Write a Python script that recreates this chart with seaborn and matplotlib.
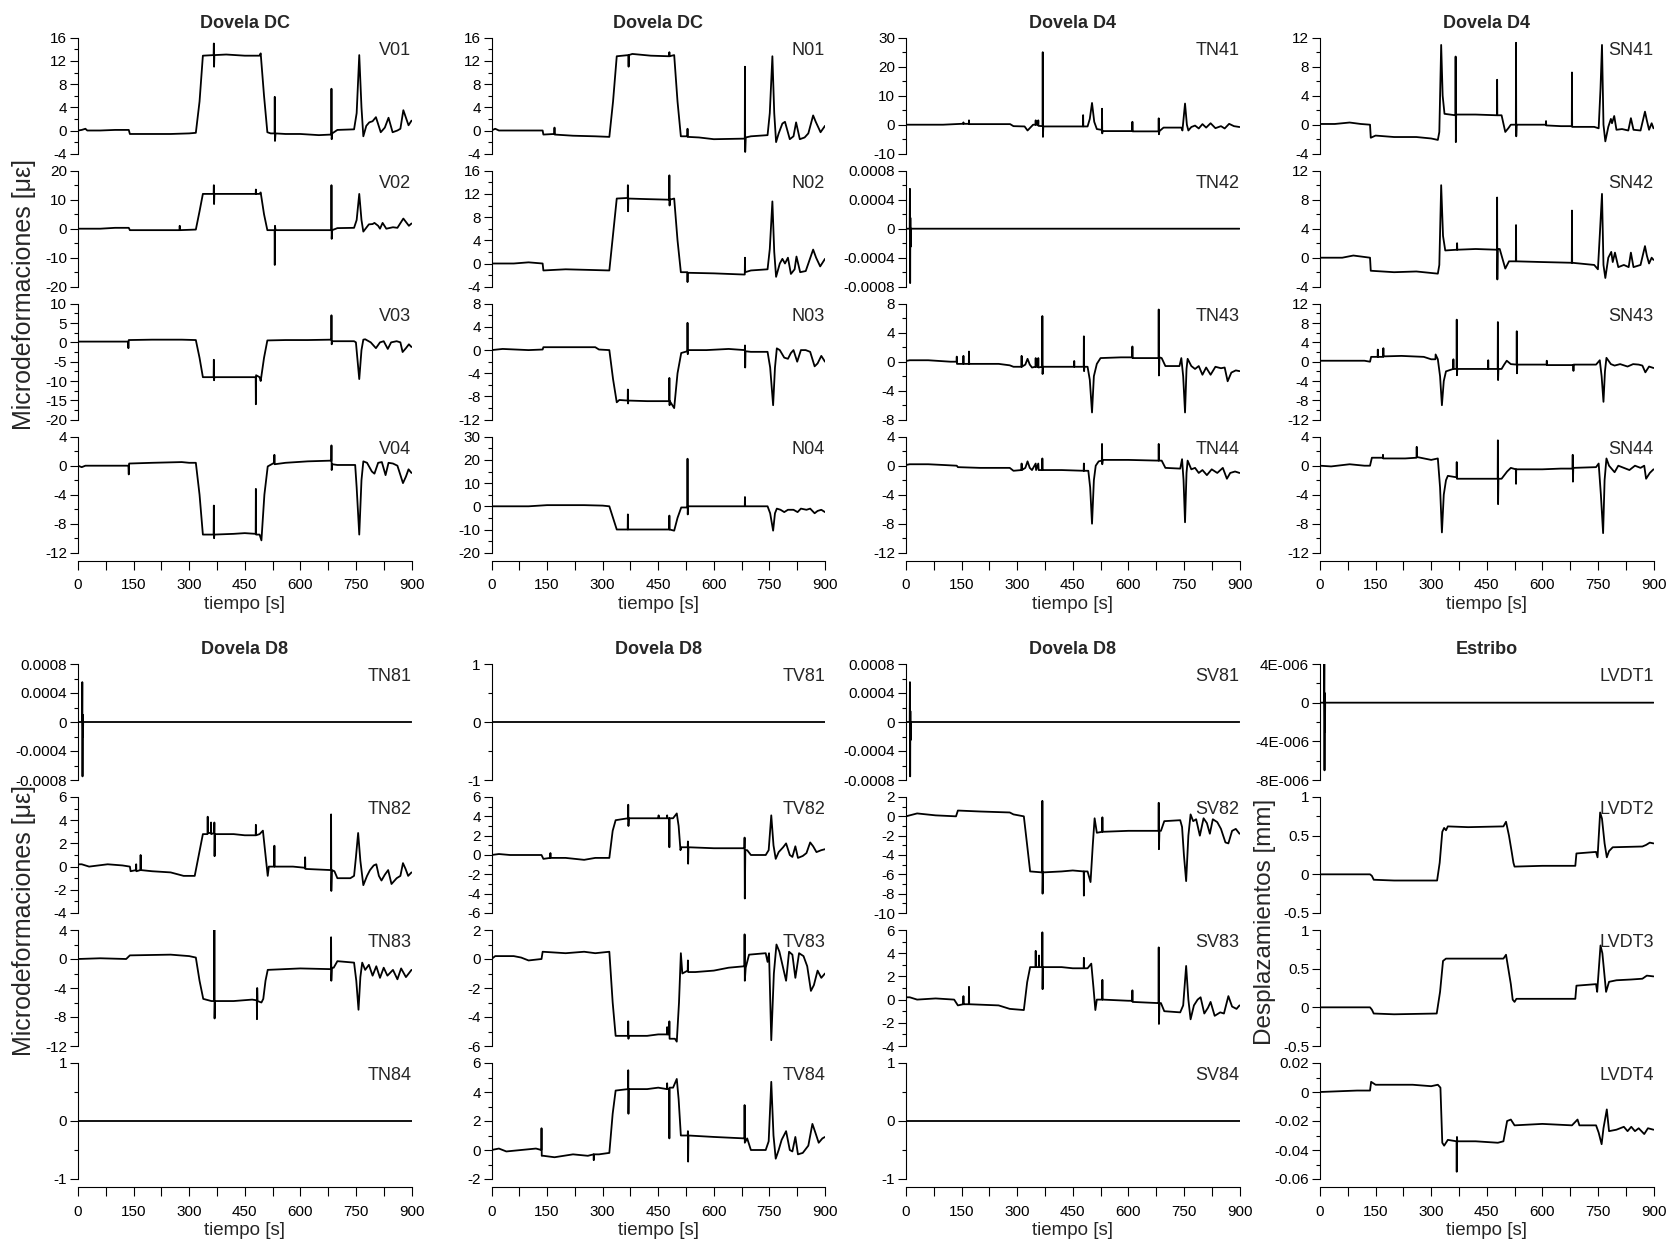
import numpy as np
import pandas as pd
import matplotlib
matplotlib.use("Agg")
import matplotlib.pyplot as plt
import seaborn as sns
from matplotlib.ticker import FixedLocator, MultipleLocator

sns.set_theme(style="ticks")
plt.rcParams['font.family'] = ['Liberation Sans', 'DejaVu Sans']

# ---------------- data (time [s], value) ----------------
V01 = [(0,0),(10,0.1),(20,0.3),(25,0),(60,0),(100,0.1),(137,0.1),(140,-0.6),(180,-0.6),(250,-0.6),(300,-0.5),(318,-0.4),(328,5),(337,12.9),(366,13),(366.6,15),(367.2,11),(368,13),(400,13.1),(450,12.9),(490,12.9),(493,13.3),(502,6),(511,-0.3),(520,-0.5),(530.5,-0.5),(531,5.8),(531.6,-1.8),(533,-0.5),(560,-0.6),(600,-0.6),(650,-0.8),(683.5,-0.7),(684,7.2),(684.6,-1.5),(686,-0.5),(700,0.1),(745,0.2),(752,3),(759,13),(765,4),(770,-1),(778,0.8),(786,1.4),(795,1.6),(804,2.3),(817,-0.3),(828,0.5),(838,2.2),(849,-0.3),(862,0),(870,0.3),(878,3.5),(885,2.2),(892,0.9),(900,1.7)]
V02 = [(0,0),(60,0),(100,0.3),(137,0.3),(140,-0.5),(200,-0.5),(274,-0.5),(274.5,1),(275,-0.5),(318,-0.3),(328,6),(337,12),(366,12),(366.6,15),(367.2,8.5),(368,12),(420,12),(479.5,12),(480,13.5),(480.6,12),(490,12),(493,12.5),(502,5),(511,-0.5),(530.5,-0.5),(531,-12.5),(531.6,1),(533,-0.5),(600,-0.5),(683.5,-0.5),(684,15),(684.6,-3.5),(686,-0.5),(700,0.2),(745,0.3),(752,3),(759,12),(765,3),(770,-1),(785,1.5),(795,1.6),(800,2),(810,1),(815,0),(822,2),(832,0),(850,0.5),(862,0.3),(878,3.5),(887,2),(893,1),(900,1.8)]
V03 = [(0,0.2),(60,0.2),(135,0.2),(136,-1.5),(137,0.6),(200,0.7),(280,0.7),(318,0.6),(328,-4),(337,-9),(366,-9),(366.6,-4.5),(367.2,-9.8),(368,-9),(420,-9),(479.5,-9),(480,-16),(480.6,-8.5),(490,-9),(493,-10),(502,-4),(511,0.5),(560,0.6),(620,0.6),(683.5,0.7),(684,7),(684.6,-0.5),(686,0.3),(700,0.3),(745,0.3),(750,0),(759,-9.5),(765,-2),(770,0.7),(775,0.8),(790,0),(804,-1.5),(815,0),(825,0.3),(836,-1.7),(845,0),(860,0.3),(870,0),(876,-2.5),(885,-1.5),(893,-0.5),(900,-1.2)]
V04 = [(0,0),(10,-0.2),(20,0),(100,0),(136,0),(137,-1.2),(138,0.3),(200,0.4),(280,0.5),(300,0.4),(318,0.4),(328,-4),(337,-9.5),(366,-9.5),(366.6,-5.5),(367.2,-10),(368,-9.5),(420,-9.4),(450,-9.3),(479.5,-9.4),(480,-3.2),(480.6,-9.5),(490,-9.5),(495,-10.3),(503,-4),(512,-0.1),(529.5,0.4),(530,1.5),(530.6,0.2),(560,0.4),(620,0.6),(683.5,0.7),(684,2.8),(684.6,-0.6),(686,0.2),(700,0.1),(748,0.1),(752,-3),(759,-9.5),(765,-2),(770,0.6),(780,0.4),(793,-0.8),(800,-1.1),(810,0.4),(820,0.5),(830,-1.3),(838,0.4),(850,0.3),(862,0),(877,-2.4),(885,-1.5),(892,-0.5),(900,-1)]

N01 = [(0,0),(10,0.3),(20,0),(80,0),(138,0),(140,-0.7),(169.5,-0.6),(170,0.5),(170.5,-0.7),(220,-0.9),(280,-1),(318,-1.1),(328,5),(338,12.8),(369.5,13),(370,11),(370.5,13),(380,13.2),(430,12.9),(479.5,12.8),(480,13.5),(480.5,12.8),(493,13),(502,5),(511,-1),(528.5,-1),(529,0.3),(529.5,-1.1),(560,-1.2),(600,-1.5),(683.5,-1.4),(684,11),(684.6,-3.7),(686,-1.2),(700,-1),(745,-0.8),(751,3),(758,12.8),(763,3),(768,-2),(775,-0.5),(785,1.2),(792,1.5),(805,-1.5),(815,-1),(822,1.4),(832,-1.5),(845,-1.2),(855,-0.5),(868,2.6),(875,1.5),(888,-0.3),(900,0.8)]
N02 = [(0,0),(60,0),(100,0.2),(138,0),(140,-1.2),(200,-1),(260,-1.1),(318,-1.2),(328,5),(338,11.2),(367.5,11.3),(368,13.5),(368.6,9),(369.2,11.2),(420,11.1),(479.5,11),(480,15.2),(480.6,10),(481.2,11),(493,11.2),(502,4),(511,-1.5),(528.5,-1.5),(529,-3.2),(529.6,-1.6),(600,-1.7),(680,-1.9),(683.5,-1.9),(684,1),(684.6,-1.5),(700,-1.2),(745,-1),(751,2.5),(758,10.7),(763,2),(768,-2.3),(778,0),(785,0.8),(792,0),(800,1),(808,-1.8),(818,-1),(823,1.2),(833,-1.5),(848,-1.3),(868,2.4),(876,1),(887,-0.5),(900,0.8)]
N03 = [(0,0),(30,0.2),(100,0),(138,0.1),(140,0.5),(200,0.5),(280,0.5),(290,0.1),(318,0),(328,-5),(338,-9),(345,-8.6),(367.5,-8.7),(368,-6.8),(368.6,-9.2),(369.2,-8.7),(420,-8.8),(479.5,-8.8),(480,-4.8),(480.6,-9.5),(481.2,-8.8),(493,-10),(502,-4),(512,-0.5),(528.5,-0.2),(529,4.7),(529.6,-0.7),(530.5,0),(580,0),(640,0.2),(683.5,0),(684,0.8),(684.6,-3),(685.5,-0.2),(700,-0.3),(745,-0.3),(752,-3),(760,-9.5),(765,-3),(770,0.3),(778,0),(790,-1.3),(800,-1.5),(808,-0.5),(815,0),(825,-2),(835,0),(848,0),(860,-0.3),(872,-2.8),(880,-2.3),(890,-1),(900,-2)]
N04 = [(0,0),(100,0),(150,0.5),(250,0.5),(300,0.3),(318,0),(328,-5),(338,-10),(367.5,-10),(368,-3.5),(368.6,-10),(420,-10),(479.5,-10),(480,-4),(480.6,-10),(493,-10.5),(502,-5),(512,-0.5),(528.5,-0.5),(529,20.5),(529.6,-3.5),(530.5,0),(600,0),(683.5,0),(684,4),(684.6,0),(745,0),(752,-3),(760,-10.5),(765,-3),(770,-1),(780,-1.5),(790,-2.5),(800,-1.5),(815,-1.5),(826,-2.5),(835,-1),(850,-1.5),(860,-1),(872,-3),(880,-2),(890,-1.5),(900,-2.5)]

TN41 = [(0,0),(100,0),(150,0.3),(154.5,0.3),(155,0.8),(155.5,0.3),(169.5,0.3),(170,1.5),(170.5,0.2),(250,0.2),(281,0.2),(290,-0.5),(320,-0.6),(328,-2),(343,0),(349.5,0),(350,1.5),(350.5,0),(356.5,0),(357,1.5),(357.5,-0.4),(368.5,-0.5),(369,25),(369.6,-4.2),(370.5,-0.6),(420,-0.6),(477.5,-0.6),(478,3.3),(478.5,-0.6),(490,-0.6),(496,2),(502,7.5),(508,1),(515,-1.5),(528.5,-1.8),(529,5.5),(529.6,-3),(530.5,-2.2),(580,-2.2),(610.5,-2.2),(611,1),(611.5,-2.3),(650,-2.3),(681.5,-2.3),(682,2.2),(682.6,-3.3),(684,-2.2),(695,-1),(743,-1),(746,-2),(753,7.3),(758,0),(762,-2),(770,-0.8),(780,-0.3),(790,-1.3),(800,0.2),(810,-1),(822,0.5),(835,-1.2),(850,-0.5),(860,-1.3),(872,0.3),(885,-0.5),(900,-0.8)]
TN42 = [(0,0),(10,0),(10.6,0.00055),(11.2,-0.00075),(11.8,0.00015),(12.4,-0.00025),(13,0),(900,0)]
TN43 = [(0,0.1),(10,0.2),(60,0.2),(120,0),(136.5,0),(137,0.7),(137.5,-0.3),(154.5,-0.3),(155,0.8),(155.5,-0.3),(169.5,-0.3),(170,1.4),(170.5,-0.3),(250,-0.3),(280,-0.5),(290,-0.7),(311.5,-0.7),(312,0.8),(312.5,-0.7),(322,-0.4),(328,0.4),(334,-0.4),(340,-0.8),(349.5,-0.7),(350,0.5),(350.5,-0.7),(356.5,-0.7),(357,0.5),(357.5,-0.8),(367.5,-0.7),(368,6.3),(368.6,-1.7),(369.5,-0.7),(420,-0.7),(453.5,-0.7),(454,0.1),(454.5,-0.7),(479.5,-0.7),(480,3.5),(480.6,-1.3),(481.5,-0.7),(490,-0.7),(496,-2.5),(502,-7),(507,-2),(515,-0.3),(525,0.5),(580,0.6),(610.5,0.6),(611,2.1),(611.5,0.5),(681.5,0.5),(682,7.2),(682.6,-1.9),(684,0.6),(690,0.5),(700,-0.6),(738,-0.6),(743,0.5),(748,-2),(753,-7),(757,-1),(760,0.4),(770,-0.6),(780,-1),(790,-0.6),(800,-1.8),(810,-0.8),(822,-1.8),(835,-0.7),(850,-0.9),(860,-0.8),(868,-2.7),(878,-1.5),(890,-1.2),(900,-1.3)]
TN44 = [(0,0.1),(10,0.2),(60,0.2),(100,0.1),(137,0),(140,-0.2),(200,-0.3),(280,-0.3),(290,-0.7),(311.5,-0.6),(312,0.3),(312.5,-0.6),(322,-0.3),(328,0.6),(334,-0.3),(340,-0.6),(350,0.3),(351,-0.6),(357,0.3),(358,-0.6),(367.5,-0.6),(368,1),(368.6,-0.6),(420,-0.6),(479.5,-0.7),(480,0.3),(480.6,-0.7),(492,-0.7),(497,-3),(502,-8),(507,-2),(512,0),(520,0.6),(528.5,0.7),(529,3),(529.6,0.2),(531,0.8),(600,0.8),(681.5,0.7),(682,3),(682.6,0.7),(690,0.7),(700,-0.3),(740,-0.4),(745,0.9),(749,-2),(753,-7.8),(757,-1),(760,0.7),(770,-0.5),(780,-0.3),(790,-1),(800,-0.6),(812,-1.3),(825,-0.5),(840,-1),(855,-0.3),(866,-1.8),(875,-1),(888,-0.8),(900,-1)]

SN41 = [(0,0.1),(40,0.1),(80,0.3),(110,0.1),(135,0),(137,-1.8),(150,-1.5),(200,-1.7),(260,-1.7),(300,-1.9),(318,-2.1),(322,-1),(327,11),(331,4),(336,1.5),(365.5,1.3),(366,9.4),(366.6,-2.4),(367.5,1.4),(420,1.4),(477.5,1.3),(478,6.2),(478.5,1.3),(490,1.3),(500,-1),(508,-0.5),(515,0),(528.5,0),(529,11.3),(529.6,-1.6),(530.5,0),(580,0),(609.5,0),(610,0.5),(610.5,-0.1),(650,-0.2),(679.5,-0.2),(680,7.2),(680.5,-0.3),(690,-0.3),(740,-0.3),(752,-0.5),(757,5),(761,11),(765,0),(770,-2.3),(778,-0.3),(785,0.8),(788,0.2),(794,1.2),(800,-0.7),(815,-0.6),(832,-0.8),(839,0.9),(846,-0.7),(865,-0.8),(877,1.8),(882,0.6),(888,-0.7),(895,0.2),(900,-0.5)]
SN42 = [(0,0),(60,0),(90,0.3),(120,0.1),(135,0),(137,-1.8),(200,-2),(260,-1.9),(318,-2.2),(322,-1),(327,10),(332,3),(338,1),(369.5,1.1),(370,2),(370.5,1.1),(420,1.2),(477.5,1.1),(478,8.3),(478.6,-3),(479.5,1.2),(485,1.2),(500,-1.5),(510,-0.5),(528.5,-0.5),(529,4.5),(529.5,-0.5),(600,-0.6),(679.5,-0.7),(680,6.5),(680.5,-0.7),(740,-1),(750,-1.6),(756,4),(761,8.8),(765,-1),(770,-2.8),(778,0),(786,0.8),(790,-0.6),(796,0.7),(805,-1.3),(820,-1),(833,-1.3),(839,0.7),(846,-1.3),(865,-1),(877,1.6),(882,0.3),(888,-0.8),(895,0),(900,-0.3)]
SN43 = [(0,0.2),(60,0.2),(120,0.2),(135,0),(138,1),(155.5,1),(156,2.5),(156.5,1),(170.5,1),(171,2.8),(171.5,1.1),(220,1.2),(280,1),(300,0.5),(311.5,0.5),(312,1.5),(318,0.5),(324,-3),(329,-9),(334,-4),(340,-2),(359.5,-1.5),(360,0.5),(360.5,-1.5),(368.5,-1.5),(369,8.7),(369.6,-2.8),(370.5,-1.5),(420,-1.5),(453.5,-1.5),(454,0.3),(454.5,-1.5),(479.5,-1.5),(480,8.2),(480.6,-3.8),(481.5,-1.5),(490,-1.5),(497,-0.6),(504,0.2),(515,-0.5),(530.5,-0.6),(531,6.3),(531.6,-2.4),(532.5,-0.6),(580,-0.6),(611.5,-0.6),(612,0.2),(612.5,-0.7),(683.5,-0.7),(684,-1.9),(684.5,-0.6),(745,-0.6),(755,0.3),(760,-3),(765,-8.3),(769,-2),(773,0.8),(785,-0.5),(795,-0.8),(810,-0.5),(830,-1),(845,-0.5),(860,-0.6),(870,-0.8),(878,-2.2),(888,-1),(900,-1.3)]
SN44 = [(0,0),(30,-0.1),(80,0.2),(120,0),(135,0),(140,1.1),(169.5,1.1),(170,1.5),(170.5,1),(230,1),(260.5,1.1),(261,2.6),(261.5,1.2),(300,0.8),(318,1),(324,-3),(329,-9.2),(334,-4),(340,-2),(345,-1.4),(368.5,-1.6),(369,0.5),(369.5,-1.8),(420,-1.8),(479.5,-1.8),(480,3.5),(480.6,-5.3),(481.5,-1.8),(490,-1.8),(505,-0.8),(515,-0.3),(528.5,-0.5),(529,-2.5),(529.5,-0.5),(600,-0.5),(650,-0.4),(681.5,-0.4),(682,1.5),(682.6,-2.2),(683.5,-0.3),(745,-0.2),(752,0.3),(758,-4),(764,-9.3),(768,-2),(773,1),(780,0),(795,-0.9),(805,0),(820,-0.3),(835,-0.6),(850,0),(865,-0.3),(875,0),(880,-1.8),(890,-1),(900,-0.5)]

TN81 = [(0,0),(11,0),(11.6,0.00055),(12.2,-0.00075),(12.8,0.0001),(13.4,-0.0002),(14,0),(900,0)]
TN82 = [(0,0.2),(10,0.2),(30,0),(80,0.2),(120,0.1),(140,0),(142,-0.4),(156.5,-0.3),(157,0.2),(157.5,-0.4),(168.5,-0.3),(169,1),(169.5,-0.3),(200,-0.4),(250,-0.5),(285,-0.8),(315,-0.8),(326,1),(337,2.8),(349.5,2.8),(350,4.3),(350.5,2.9),(358.5,2.9),(359,3.8),(359.5,2.8),(367.5,2.9),(368,3.8),(368.6,0.9),(369.5,2.8),(420,2.8),(450,2.7),(479.5,2.7),(480,3.6),(480.5,2.7),(490,2.8),(499,3.1),(506,1),(512,-0.8),(515,0),(529.5,0),(530,1.8),(530.5,0),(580,0),(612.5,-0.1),(613,0.8),(613.5,-0.2),(682.5,-0.3),(683,4.5),(683.6,-2.1),(685,-0.3),(692,-0.4),(700,-1),(735,-1),(745,-0.8),(750,0.8),(756,2.9),(762,0.5),(770,-1.6),(780,-0.8),(788,-0.3),(798,0.1),(805,0.2),(812,-0.8),(819,-1.2),(828,-0.7),(837,-0.3),(846,-1.5),(860,-1),(870,-0.8),(877,0.3),(884,-0.2),(891,-0.8),(900,-0.5)]
TN83 = [(0,0),(60,0.1),(130,0),(140,0.5),(250,0.6),(300,0.4),(318,0.2),(328,-3),(338,-5.5),(360,-5.8),(367.5,-5.8),(368,4),(368.6,-8.2),(369.5,-5.8),(420,-5.8),(470,-5.6),(482.5,-5.7),(483,-8.3),(483.6,-4),(484.5,-5.8),(495,-6),(500,-5.5),(506,-3),(512,-1.5),(600,-1.3),(682.5,-1.4),(683,3),(683.6,-3),(685,-1.2),(690,-1.2),(700,-0.3),(745,-0.5),(751,-3),(757,-7),(762,-2.5),(767,-0.5),(775,-1.5),(785,-0.8),(795,-2.3),(805,-1),(815,-2.6),(825,-1.2),(835,-2.3),(850,-1.5),(862,-2.8),(872,-1.3),(885,-2.5),(900,-1.5)]
TN84 = [(0,0),(900,0)]

TV81 = [(0,0),(900,0)]
TV82 = [(0,0),(20,0.1),(50,0),(90,0),(135,0),(140,-0.4),(158.5,-0.3),(159,0.2),(159.5,-0.3),(200,-0.3),(250,-0.5),(280,-0.3),(318,-0.3),(327,2.5),(335,3.6),(368.5,3.8),(369,5.2),(369.6,3),(370.5,3.8),(420,3.8),(450.5,3.8),(451,4.1),(451.5,3.8),(473.5,3.8),(474,4.1),(474.5,3.8),(479.5,3.8),(480,0.8),(480.6,3.8),(490,3.8),(500,4.3),(505,3),(510,0.5),(512,0.8),(529.5,0.8),(530,1.4),(530.6,-0.9),(531.5,0.8),(600,0.7),(682.5,0.7),(683,1.8),(683.6,-4.5),(685,0.5),(690,0.5),(700,0),(740,0),(748,0.5),(755,4.1),(761,1),(767,-0.4),(775,0.3),(787,0.8),(795,1.2),(805,0),(812,-0.2),(820,0.9),(827,-0.3),(840,-0.1),(850,0.2),(860,1.3),(868,0.9),(877,0.3),(890,0.5),(900,0.6)]
TV83 = [(0,0),(10,0.2),(60,0.2),(80,0.1),(100,-0.1),(135,0),(138,0.5),(200,0.4),(250,0.5),(280,0.4),(318,0.5),(327,-3),(335,-5.3),(368.5,-5.3),(369,-4.3),(369.6,-5.5),(370.5,-5.3),(420,-5.3),(450,-5.2),(473.5,-5.2),(474,-4.7),(474.5,-5.2),(479.5,-5.2),(480,-4.3),(480.6,-5.5),(495,-5.5),(500,-5.7),(506,-3),(511,0.4),(515,-1),(529.5,-0.8),(530,-0.1),(530.6,-0.9),(550,-0.9),(600,-0.8),(640,-0.6),(682.5,-0.5),(683,1.7),(683.6,-1.5),(686,-0.6),(695,0.3),(740,0.4),(745,-0.2),(749,0.4),(755,-5.6),(762,-1),(769,1),(777,0.5),(786,-0.5),(795,-1.5),(803,0.5),(812,0.3),(820,-1.3),(830,0.4),(842,0.2),(852,-0.5),(862,-2.2),(870,-1.8),(880,-0.8),(890,-1.3),(900,-1)]
TV84 = [(0,0),(20,0.1),(40,-0.1),(80,0),(120,0.1),(134.5,0),(135,1.5),(135.6,-0.4),(140,-0.4),(170,-0.5),(220,-0.3),(260,-0.4),(275.5,-0.3),(276,-0.7),(276.5,-0.3),(290,-0.3),(318,-0.2),(327,2.5),(335,4.1),(368.5,4.2),(369,5.5),(369.6,2.5),(370.5,4.2),(420,4.2),(450,4.3),(473.5,4.2),(474,4.6),(474.5,4.2),(479.5,4.2),(480,0.8),(480.6,4.3),(490,4.3),(500,4.9),(505,3.5),(511,1),(529.5,1),(530,1.3),(530.6,-0.8),(531.5,1),(600,0.9),(682.5,0.8),(683,3.1),(683.6,0.5),(690,0.8),(700,0),(740,0),(748,0.6),(755,4.7),(761,1),(767,-0.6),(775,0),(783,0.7),(795,1.3),(805,0),(812,-0.1),(820,0.9),(827,-0.3),(840,-0.2),(855,0.3),(866,1.8),(874,1.2),(883,0.5),(893,0.8),(900,0.9)]

SV81 = [(0,0),(10,0),(10.6,0.00055),(11.2,-0.00075),(11.8,0.00015),(12.4,-0.00025),(13,0),(900,0)]
SV82 = [(0,0),(30,0.3),(80,0.1),(135,0),(140,0.6),(200,0.5),(280,0.4),(290,0.2),(318,0),(327,-3),(335,-5.7),(367.5,-5.8),(368,1.6),(368.6,-8),(369.5,-5.8),(420,-5.7),(450,-5.6),(479.5,-5.7),(480,-8.2),(480.6,-5.7),(490,-5.7),(498,-6.8),(504,-3),(509,-0.2),(515,-1.7),(529.5,-1.6),(530,-0.1),(530.6,-1.6),(600,-1.5),(681.5,-1.5),(682,1.4),(682.6,-3.4),(684,-1.5),(688,-1.5),(697,-0.5),(740,-0.4),(745,-1.1),(750,-4),(756,-6.7),(762,-2),(768,0.2),(775,-0.5),(783,-0.3),(793,-2),(803,-0.2),(812,-0.7),(820,-1.8),(828,-0.3),(840,-0.6),(850,-1.3),(862,-2.7),(870,-2.8),(880,-1.5),(890,-1.3),(900,-1.8)]
SV83 = [(0,0.2),(10,0.2),(30,0),(80,0.1),(130,0),(140,-0.5),(154.5,-0.4),(155,0.3),(155.5,-0.4),(169.5,-0.4),(170,1.1),(170.5,-0.4),(250,-0.5),(280,-0.8),(318,-0.9),(327,1.5),(335,2.8),(349.5,2.8),(350,4.2),(350.5,2.8),(358.5,2.8),(359,3.8),(359.5,2.8),(367.5,2.8),(368,5.8),(368.6,0.9),(369.5,2.8),(420,2.8),(450,2.7),(479.5,2.7),(480,3.6),(480.5,2.7),(490,2.7),(500,3.1),(506,1),(511,-0.9),(515,0),(529.5,0),(530,1.7),(530.5,0),(600,-0.1),(610.5,-0.1),(611,0.8),(611.5,-0.2),(680,-0.3),(681.5,-0.3),(682,4.5),(682.6,-2.1),(684,-0.3),(688,-0.3),(697,-1),(740,-1.1),(748,-0.5),(756,2.9),(762,0),(768,-1.7),(777,-0.5),(787,0),(795,0.2),(805,-1.2),(815,-0.7),(822,-0.2),(833,-1.4),(848,-1.1),(858,-1.2),(870,0.3),(880,-0.6),(892,-0.8),(900,-0.5)]
SV84 = [(0,0),(900,0)]

LVDT1 = [(0,0),(11,0),(11.6,4e-6),(12.2,-7e-6),(12.8,1e-6),(13.4,-3e-6),(14,0),(900,0)]
LVDT2 = [(0,0),(135,0),(140,-0.02),(145,-0.07),(200,-0.08),(316,-0.08),(323,0.15),(330,0.55),(335,0.6),(340,0.57),(345,0.62),(400,0.61),(495,0.62),(502,0.68),(510,0.5),(517,0.3),(522,0.15),(525,0.1),(600,0.11),(689,0.11),(692,0.27),(745,0.29),(749,0.22),(756,0.8),(761,0.72),(768,0.4),(774,0.22),(780,0.3),(790,0.35),(870,0.36),(880,0.38),(890,0.41),(900,0.4)]
LVDT3 = [(0,0),(135,0),(140,-0.03),(145,-0.08),(200,-0.09),(315,-0.08),(324,0.2),(332,0.6),(340,0.63),(400,0.63),(495,0.63),(502,0.68),(515,0.3),(520,0.1),(525,0.07),(530,0.11),(689,0.11),(692,0.28),(745,0.3),(748,0.2),(757,0.8),(762,0.7),(768,0.4),(772,0.2),(780,0.33),(800,0.35),(840,0.36),(870,0.37),(882,0.41),(900,0.4)]
LVDT4 = [(0,0),(100,0.001),(135,0.001),(138,0.007),(150,0.005),(250,0.005),(300,0.004),(318,0.005),(325,0.003),(330,-0.035),(335,-0.037),(345,-0.033),(368.5,-0.034),(369,-0.055),(369.6,-0.031),(370.5,-0.034),(420,-0.034),(480,-0.035),(495,-0.034),(505,-0.02),(515,-0.019),(525,-0.023),(600,-0.022),(680,-0.023),(695,-0.019),(700,-0.023),(745,-0.023),(752,-0.028),(760,-0.036),(765,-0.025),(774,-0.012),(780,-0.027),(800,-0.026),(820,-0.024),(830,-0.027),(840,-0.024),(850,-0.027),(860,-0.025),(875,-0.029),(885,-0.025),(900,-0.026)]

# titles per column / group
TITLES_TOP = ["Dovela DC", "Dovela DC", "Dovela D4", "Dovela D4"]
TITLES_BOT = ["Dovela D8", "Dovela D8", "Dovela D8", "Estribo"]

# panel definitions: name, data, (ymin, ymax, major step)
TOP = [
    [("V01", V01, (-4, 16, 4)), ("V02", V02, (-20, 20, 10)), ("V03", V03, (-20, 10, 5)), ("V04", V04, (-12, 4, 4))],
    [("N01", N01, (-4, 16, 4)), ("N02", N02, (-4, 16, 4)), ("N03", N03, (-12, 8, 4)), ("N04", N04, (-20, 30, 10))],
    [("TN41", TN41, (-10, 30, 10)), ("TN42", TN42, (-0.0008, 0.0008, 0.0004)), ("TN43", TN43, (-8, 8, 4)), ("TN44", TN44, (-12, 4, 4))],
    [("SN41", SN41, (-4, 12, 4)), ("SN42", SN42, (-4, 12, 4)), ("SN43", SN43, (-12, 12, 4)), ("SN44", SN44, (-12, 4, 4))],
]
BOT = [
    [("TN81", TN81, (-0.0008, 0.0008, 0.0004)), ("TN82", TN82, (-4, 6, 2)), ("TN83", TN83, (-12, 4, 4)), ("TN84", TN84, (-1, 1, 1))],
    [("TV81", TV81, (-1, 1, 1)), ("TV82", TV82, (-6, 6, 2)), ("TV83", TV83, (-6, 2, 2)), ("TV84", TV84, (-2, 6, 2))],
    [("SV81", SV81, (-0.0008, 0.0008, 0.0004)), ("SV82", SV82, (-10, 2, 2)), ("SV83", SV83, (-4, 6, 2)), ("SV84", SV84, (-1, 1, 1))],
    [("LVDT1", LVDT1, (-8e-6, 4e-6, 4e-6)), ("LVDT2", LVDT2, (-0.5, 1, 0.5)), ("LVDT3", LVDT3, (-0.5, 1, 0.5)), ("LVDT4", LVDT4, (-0.06, 0.02, 0.02))],
]
LVDT1_LABELS = ["-8E-006", "-4E-006", "0", "4E-006"]
X_TICKS = [0, 150, 300, 450, 600, 750, 900]

# ---------------- layout (pixels) ----------------
W, H = 1667, 1240
fig = plt.figure(figsize=(W / 100, H / 100), dpi=100)
fig.patch.set_facecolor("white")
COL_X = [78, 491.5, 906, 1320]
AX_W = 333.5
AX_H = 116
ROW_TOP = [[37.7, 170.7, 303.7, 436.7], [664, 797, 930, 1063]]


def fmt(v):
    if abs(v) < 1e-12:
        return "0"
    return f"{round(v, 9):g}"


for g, (group, titles) in enumerate([(TOP, TITLES_TOP), (BOT, TITLES_BOT)]):
    for c, column in enumerate(group):
        for r, (name, pts, (lo, hi, step)) in enumerate(column):
            top = ROW_TOP[g][r]
            ax = fig.add_axes([COL_X[c] / W, 1 - (top + AX_H) / H, AX_W / W, AX_H / H])
            df = pd.DataFrame(pts, columns=["t", "v"])
            sns.lineplot(data=df, x="t", y="v", ax=ax, color="black", linewidth=1.3,
                         estimator=None, sort=False)
            ax.set_xlim(0, 900)
            ax.set_ylim(lo, hi)
            ax.set_xlabel("")
            ax.set_ylabel("")
            for s in ["top", "right"]:
                ax.spines[s].set_visible(False)
            ax.spines["left"].set_color("black")
            ax.spines["left"].set_linewidth(0.8)
            n = int(round((hi - lo) / step)) + 1
            yt = np.linspace(lo, hi, n)
            ax.yaxis.set_major_locator(FixedLocator(yt))
            if name == "LVDT1":
                ax.set_yticklabels(LVDT1_LABELS)
            else:
                ax.set_yticklabels([fmt(v) for v in yt])
            ax.yaxis.set_minor_locator(FixedLocator(np.linspace(lo, hi, 2 * n - 1)))
            ax.tick_params(axis="y", which="major", length=5.8, width=0.8, pad=2,
                           labelsize=11, colors="black")
            ax.tick_params(axis="y", which="minor", length=2.9, width=0.8, colors="black")
            if r == 3:
                ax.spines["bottom"].set_position(("outward", 6))
                ax.spines["bottom"].set_color("black")
                ax.spines["bottom"].set_linewidth(0.8)
                ax.set_xticks(X_TICKS)
                ax.set_xticklabels([str(v) for v in X_TICKS])
                ax.xaxis.set_minor_locator(MultipleLocator(75))
                ax.tick_params(axis="x", which="both", length=6.5, width=0.8,
                               colors="black")
                ax.tick_params(axis="x", which="major", pad=6, labelsize=11)
                ax.set_xlabel("tiempo [s]", fontsize=13.5, labelpad=2.5)
            else:
                ax.spines["bottom"].set_visible(False)
                ax.tick_params(axis="x", which="both", bottom=False, labelbottom=False)
            if r == 0:
                ax.set_title(titles[c], fontsize=13, fontweight="bold", pad=7)
            ax.text(1.0, 1 - 4 / AX_H, name, transform=ax.transAxes, ha="right",
                    va="top", fontsize=13)
            ax.set_facecolor("none")

fig.text(24 / W, 1 - 295 / H, "Microdeformaciones [με]", rotation=90,
         ha="center", va="center", fontsize=18)
fig.text(24 / W, 1 - 921 / H, "Microdeformaciones [με]", rotation=90,
         ha="center", va="center", fontsize=18)
fig.text(1265 / W, 1 - 922 / H, "Desplazamientos [mm]", rotation=90,
         ha="center", va="center", fontsize=17.5)

fig.savefig("out.png", dpi=100, facecolor="white")
